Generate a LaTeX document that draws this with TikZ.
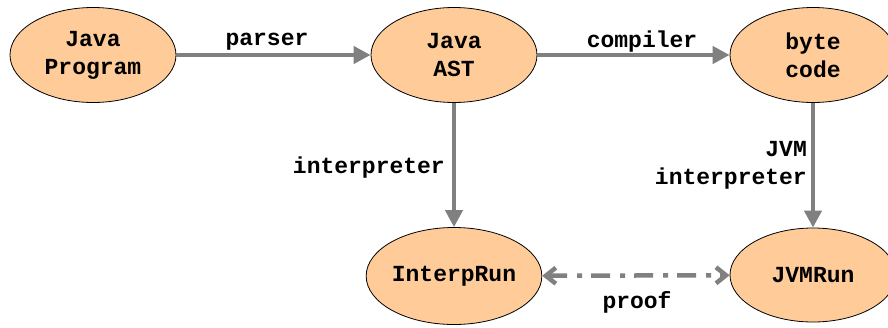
\documentclass[tikz,border=0pt]{standalone}
\usepackage{fontspec}
\setmonofont{Liberation Mono}
\usetikzlibrary{shapes.geometric,arrows.meta}
\definecolor{peach}{RGB}{255,204,153}
\definecolor{arrowgray}{RGB}{128,128,128}
\begin{document}
\begin{tikzpicture}[x=1pt,y=-1pt,
  every node/.style={font=\fontsize{23}{28}\selectfont\ttfamily\bfseries},
  state/.style={ellipse, draw=black, line width=0.8pt, fill=peach, minimum width=166pt, minimum height=95pt, inner sep=0pt, align=center},
  flow/.style={draw=arrowgray, line width=4.5pt, -{Triangle[length=17pt,width=17pt]}},
  proofline/.style={draw=arrowgray, line width=4.5pt, {Straight Barb[length=10pt,width=16pt]}-{Straight Barb[length=10pt,width=16pt]}, dash pattern=on 19pt off 10pt on 5pt off 9pt},
  lbl/.style={inner sep=0pt}]
\useasboundingbox (0,0) rectangle (888,327);
\node[state] (prog) at (93,55) {Java\\Program};
\node[state] (ast) at (454,55) {Java\\AST};
\node[state] (byte) at (813,55) {byte\\code};
\node[state, minimum height=97pt] (interp) at (454,276) {InterpRun};
\node[state, minimum height=94pt] (jvm) at (813,275) {JVMRun};
\draw[flow] (prog) -- (ast);
\draw[flow] (ast) -- (byte);
\draw[flow] (ast) -- (interp);
\draw[flow] (byte) -- (jvm);
\draw[proofline] (interp) -- (jvm);
\node[lbl] (lparser) at (267,42) {parser};
\node[lbl] (lcomp) at (642,42) {compiler};
\node[lbl, anchor=east] (linterp) at (445,168) {interpreter};
\node[lbl, anchor=east, align=right] (ljvm) at (807,165) {JVM\\interpreter};
\node[lbl] (lproof) at (637,302) {proof};
\end{tikzpicture}
\end{document}
